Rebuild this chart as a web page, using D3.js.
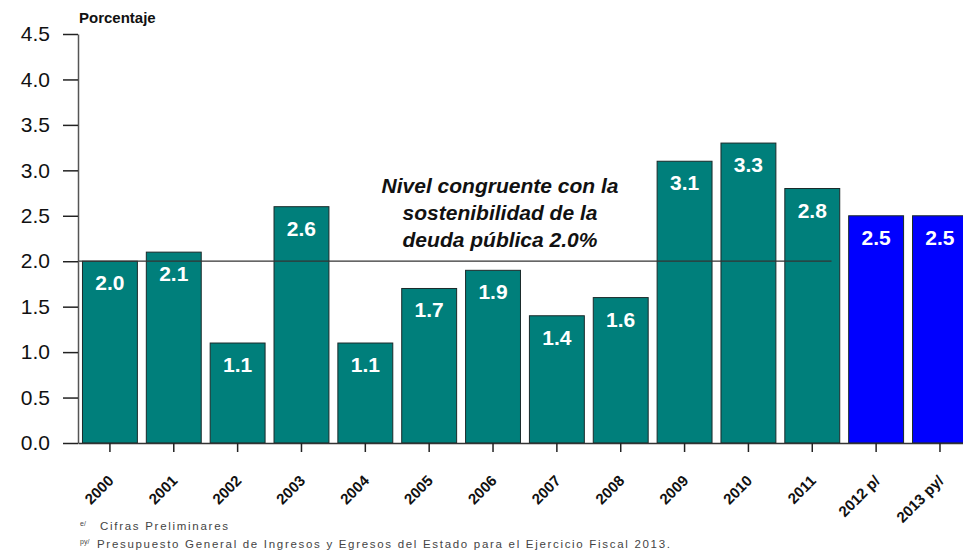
<!DOCTYPE html>
<html>
<head>
<meta charset="utf-8">
<script src="https://cdn.jsdelivr.net/npm/d3@7"></script>
<style>
  body { margin: 0; background: #fff; }
  text { font-family: "Liberation Sans", Arial, sans-serif; }
</style>
</head>
<body>
<div class="chart"></div>
<script>
// chart data
var years = ["2000", "2001", "2002", "2003", "2004", "2005", "2006", "2007",
             "2008", "2009", "2010", "2011", "2012 p/", "2013 py/"];
var values = [2.0, 2.1, 1.1, 2.6, 1.1, 1.7, 1.9, 1.4, 1.6, 3.1, 3.3, 2.8, 2.5, 2.5];
var projected = [false, false, false, false, false, false, false, false,
                 false, false, false, false, true, true];
var yTicks = [0, 0.5, 1, 1.5, 2, 2.5, 3, 3.5, 4, 4.5];
var refLevel = 2.0;
var noteLines = ["Nivel congruente con la", "sostenibilidad de la", "deuda pública 2.0%"];

var svgWidth = 963, svgHeight = 552;
var margin = { top: 34, left: 78 };
var height = 443 - margin.top;
var width = 14 * 63.85;

var svg = d3.select(".chart").append("svg")
  .attr("width", svgWidth)
  .attr("height", svgHeight);

var chartGroup = svg.append("g")
  .attr("transform", `translate(${margin.left}, ${margin.top})`);

// scales
var xScale = d3.scaleBand().domain(years).range([0, width]).paddingInner(0.14).paddingOuter(0.07);
var yScale = d3.scaleLinear().domain([0, 4.5]).range([height, 0]);

// bars
chartGroup.selectAll("rect.bar")
  .data(values)
  .enter()
  .append("rect")
  .attr("class", "bar")
  .attr("x", (d, i) => xScale(years[i]))
  .attr("y", d => yScale(d))
  .attr("width", xScale.bandwidth())
  .attr("height", d => height - yScale(d))
  .attr("fill", (d, i) => projected[i] ? "#0000ff" : "#007f7b")
  .attr("stroke", "#1a2a2a")
  .attr("stroke-width", 1);

// value labels inside bars
chartGroup.selectAll("text.val")
  .data(values)
  .enter()
  .append("text")
  .attr("class", "val")
  .attr("x", (d, i) => xScale(years[i]) + xScale.bandwidth() / 2)
  .attr("y", d => yScale(d) + 29)
  .attr("text-anchor", "middle")
  .attr("font-size", 21)
  .attr("font-weight", "bold")
  .attr("fill", "#ffffff")
  .text(d => d.toFixed(1));

// reference line at 2.0
chartGroup.append("line")
  .attr("x1", 0)
  .attr("x2", xScale("2011") + xScale.bandwidth() * 0.85)
  .attr("y1", yScale(refLevel))
  .attr("y2", yScale(refLevel))
  .attr("stroke", "#333")
  .attr("stroke-width", 1.2);

// note text
var note = chartGroup.append("text")
  .attr("text-anchor", "middle")
  .attr("font-size", 21)
  .attr("font-weight", "bold")
  .attr("font-style", "italic")
  .attr("fill", "#111");
noteLines.forEach(function(t, i) {
  note.append("tspan")
    .attr("x", 500 - margin.left)
    .attr("y", 193 - margin.top + i * 27)
    .text(t);
});

// y axis
var leftAxis = d3.axisLeft(yScale)
  .tickValues(yTicks)
  .tickFormat(d3.format(".1f"))
  .tickSize(15)
  .tickSizeOuter(0)
  .tickPadding(13);

var yAxisG = chartGroup.append("g").call(leftAxis);
yAxisG.select(".domain").attr("stroke", "#555").attr("stroke-width", 1.5);
yAxisG.selectAll(".tick line").attr("stroke", "#222").attr("stroke-width", 1.5);
yAxisG.selectAll(".tick text")
  .attr("font-size", 21)
  .attr("fill", "#111")
  .attr("font-family", "Liberation Sans, Arial, sans-serif");

// x axis
var bottomAxis = d3.axisBottom(xScale).tickSize(9).tickSizeOuter(0);
var xAxisG = chartGroup.append("g")
  .attr("transform", `translate(0, ${height})`)
  .call(bottomAxis);
xAxisG.select(".domain").attr("stroke", "#333").attr("stroke-width", 1.5);
xAxisG.selectAll(".tick line").attr("stroke", "#222").attr("stroke-width", 1.5);
xAxisG.selectAll(".tick text")
  .attr("font-size", 15)
  .attr("font-weight", "bold")
  .attr("fill", "#111")
  .attr("font-family", "Liberation Sans, Arial, sans-serif")
  .attr("text-anchor", "end")
  .attr("x", 0)
  .attr("y", 0)
  .attr("dy", "0.35em")
  .attr("transform", "translate(1, 35) rotate(-45)");

// y axis title
svg.append("text")
  .attr("x", 79)
  .attr("y", 23)
  .attr("font-size", 15)
  .attr("font-weight", "bold")
  .attr("fill", "#111")
  .text("Porcentaje");

// footnotes
var foot = svg.append("g").attr("fill", "#444").attr("font-size", 11.5);
foot.append("text").attr("x", 80).attr("y", 526).attr("font-size", 7).text("e/");
foot.append("text").attr("x", 100).attr("y", 530)
  .attr("textLength", 128).attr("lengthAdjust", "spacing")
  .text("Cifras Preliminares");
foot.append("text").attr("x", 80).attr("y", 544).attr("font-size", 7).text("py/");
foot.append("text").attr("x", 97).attr("y", 548)
  .attr("textLength", 573).attr("lengthAdjust", "spacing")
  .text("Presupuesto General de Ingresos y Egresos del Estado para el Ejercicio Fiscal 2013.");
</script>
</body>
</html>
